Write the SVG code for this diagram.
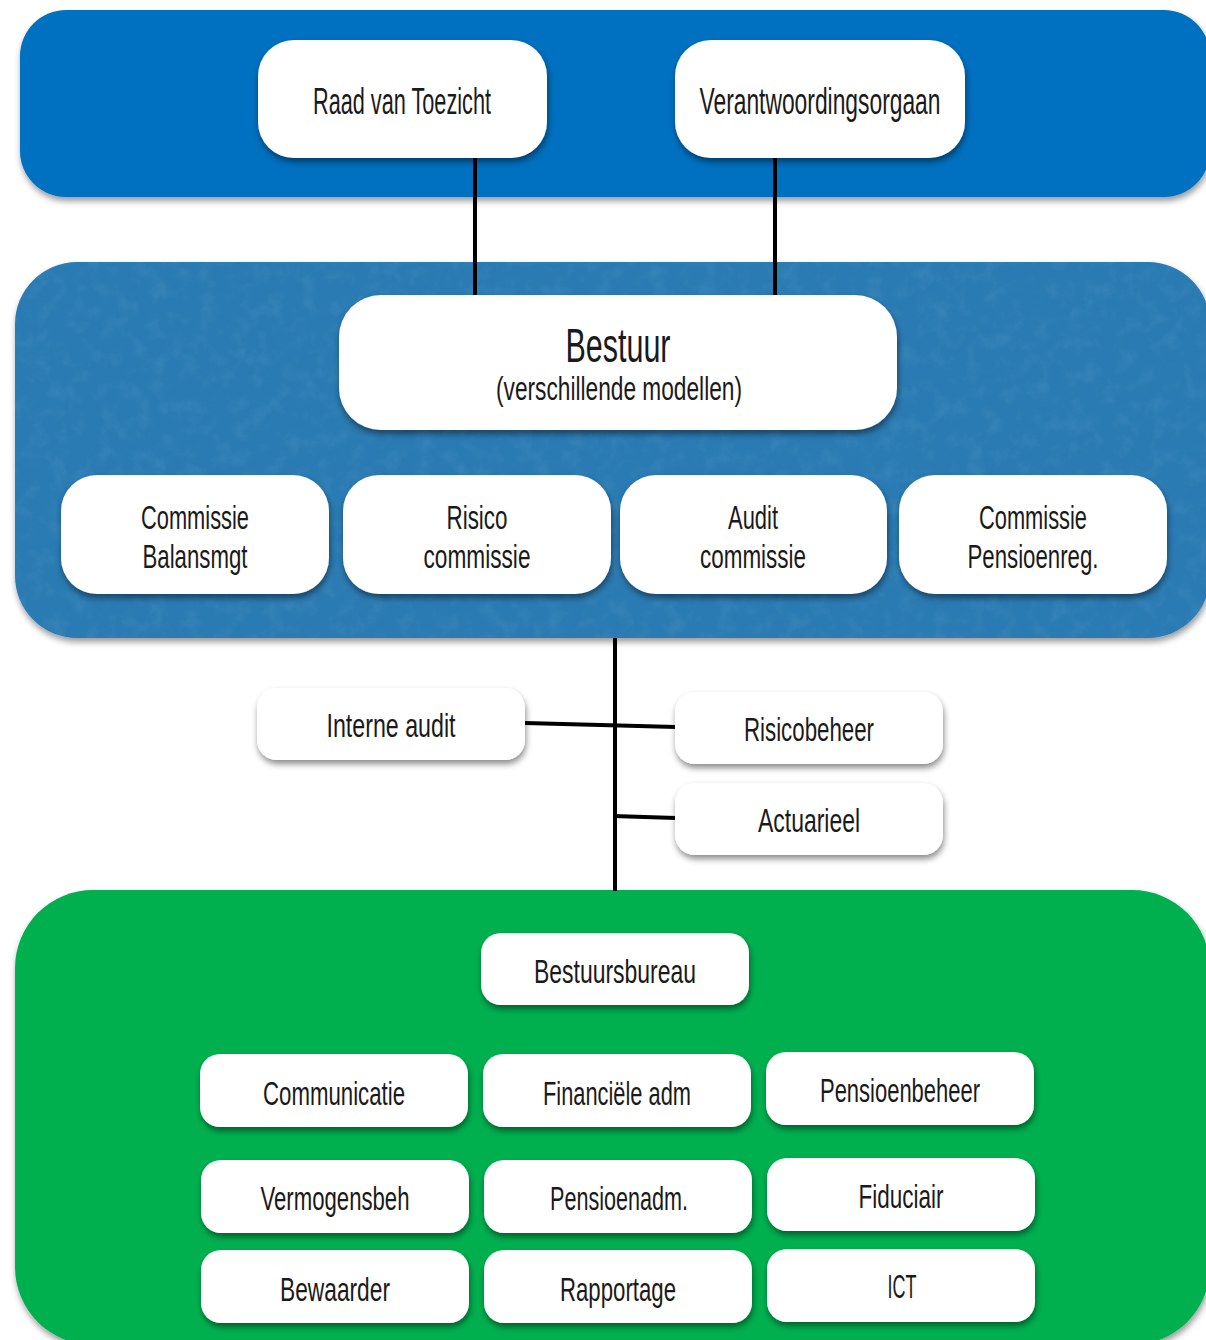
<svg xmlns="http://www.w3.org/2000/svg" width="1206" height="1340" viewBox="0 0 1206 1340">
  <defs>
    <filter id="shadow" x="-10%" y="-20%" width="120%" height="150%">
      <feDropShadow dx="1" dy="4" stdDeviation="3" flood-color="#000" flood-opacity="0.45"/>
    </filter>
    <filter id="bandShadow" x="-5%" y="-10%" width="110%" height="125%">
      <feDropShadow dx="1" dy="4" stdDeviation="3" flood-color="#000" flood-opacity="0.4"/>
    </filter>
    <filter id="grain" x="0" y="0" width="100%" height="100%">
      <feTurbulence type="fractalNoise" baseFrequency="0.06" numOctaves="4" seed="7" result="n"/>
      <feColorMatrix in="n" type="matrix" values="0 0 0 0 0.14  0 0 0 0 0.42  0 0 0 0 0.64  0 0 0 1.2 -0.5" result="tint"/>
      <feComposite in="tint" in2="SourceGraphic" operator="in"/>
    </filter>
    <style>
      .node { fill: #ffffff; filter: url(#shadow); }
      .lbl { font-family: "Liberation Sans", "DejaVu Sans", sans-serif; fill: #1a1a1a; text-anchor: middle; }
      .s33 { font-size: 36px; }
      .s31 { font-size: 34px; }
      .conn { stroke: #000; stroke-width: 4; fill: none; }
    </style>
  </defs>

  <!-- background bands -->
  <g id="bands">
    <rect x="20" y="10" width="1190" height="187" rx="46" fill="#0070C0" filter="url(#bandShadow)"/>
    <rect x="15" y="262" width="1195" height="376" rx="62" fill="#2C7AB3" filter="url(#bandShadow)"/>
    <rect x="15" y="262" width="1195" height="376" rx="62" fill="#2C7AB3" filter="url(#grain)" opacity="0.3"/>
    <rect x="15" y="890" width="1195" height="455" rx="78" fill="#00B050" filter="url(#bandShadow)"/>
  </g>

  <!-- connectors -->
  <g id="connectors">
    <line class="conn" x1="475" y1="156" x2="475" y2="296"/>
    <line class="conn" x1="775" y1="156" x2="775" y2="296"/>
    <line class="conn" x1="615" y1="638" x2="615" y2="891"/>
    <line class="conn" x1="525" y1="723" x2="676" y2="727"/>
    <line class="conn" x1="613" y1="816" x2="676" y2="818"/>
  </g>

  <!-- top level -->
  <g id="raad-van-toezicht">
    <rect class="node" x="258" y="40" width="289" height="118" rx="36"/>
    <text class="lbl s33" x="402" y="114" textLength="178" lengthAdjust="spacingAndGlyphs">Raad van Toezicht</text>
  </g>
  <g id="verantwoordingsorgaan">
    <rect class="node" x="675" y="40" width="290" height="118" rx="36"/>
    <text class="lbl s33" x="820" y="114" textLength="241" lengthAdjust="spacingAndGlyphs">Verantwoordingsorgaan</text>
  </g>

  <!-- board -->
  <g id="bestuur">
    <rect class="node" x="339" y="295" width="558" height="135" rx="42"/>
    <text class="lbl" x="618" y="362" font-size="49" textLength="105" lengthAdjust="spacingAndGlyphs">Bestuur</text>
    <text class="lbl" x="619" y="400" font-size="34" textLength="246" lengthAdjust="spacingAndGlyphs">(verschillende modellen)</text>
  </g>

  <g id="commissie-balansmgt">
    <rect class="node" x="61" y="475" width="268" height="119" rx="36"/>
    <text class="lbl s31" x="195" y="529" textLength="108" lengthAdjust="spacingAndGlyphs">Commissie</text>
    <text class="lbl s31" x="195" y="568" textLength="105" lengthAdjust="spacingAndGlyphs">Balansmgt</text>
  </g>
  <g id="risico-commissie">
    <rect class="node" x="343" y="475" width="268" height="119" rx="36"/>
    <text class="lbl s31" x="477" y="529" textLength="61" lengthAdjust="spacingAndGlyphs">Risico</text>
    <text class="lbl s31" x="477" y="568" textLength="107" lengthAdjust="spacingAndGlyphs">commissie</text>
  </g>
  <g id="audit-commissie">
    <rect class="node" x="620" y="475" width="267" height="119" rx="36"/>
    <text class="lbl s31" x="753" y="529" textLength="50" lengthAdjust="spacingAndGlyphs">Audit</text>
    <text class="lbl s31" x="753" y="568" textLength="106" lengthAdjust="spacingAndGlyphs">commissie</text>
  </g>
  <g id="commissie-pensioenreg">
    <rect class="node" x="899" y="475" width="268" height="119" rx="36"/>
    <text class="lbl s31" x="1033" y="529" textLength="108" lengthAdjust="spacingAndGlyphs">Commissie</text>
    <text class="lbl s31" x="1033" y="568" textLength="131" lengthAdjust="spacingAndGlyphs">Pensioenreg.</text>
  </g>

  <!-- key functions -->
  <g id="interne-audit">
    <rect class="node" x="257" y="688" width="268" height="72" rx="20"/>
    <text class="lbl s31" x="391" y="737" textLength="129" lengthAdjust="spacingAndGlyphs">Interne audit</text>
  </g>
  <g id="risicobeheer">
    <rect class="node" x="675" y="692" width="268" height="72" rx="20"/>
    <text class="lbl s31" x="809" y="741" textLength="130" lengthAdjust="spacingAndGlyphs">Risicobeheer</text>
  </g>
  <g id="actuarieel">
    <rect class="node" x="675" y="783" width="268" height="72" rx="20"/>
    <text class="lbl s31" x="809" y="832" textLength="102" lengthAdjust="spacingAndGlyphs">Actuarieel</text>
  </g>

  <!-- execution -->
  <g id="bestuursbureau">
    <rect class="node" x="481" y="933" width="268" height="72" rx="20"/>
    <text class="lbl s31" x="615" y="983" textLength="162" lengthAdjust="spacingAndGlyphs">Bestuursbureau</text>
  </g>

  <g id="communicatie">
    <rect class="node" x="200" y="1054" width="268" height="73" rx="20"/>
    <text class="lbl s31" x="334" y="1105" textLength="142" lengthAdjust="spacingAndGlyphs">Communicatie</text>
  </g>
  <g id="financiele-adm">
    <rect class="node" x="483" y="1054" width="268" height="73" rx="20"/>
    <text class="lbl s31" x="617" y="1105" textLength="148" lengthAdjust="spacingAndGlyphs">Financiële adm</text>
  </g>
  <g id="pensioenbeheer">
    <rect class="node" x="766" y="1052" width="268" height="73" rx="20"/>
    <text class="lbl s31" x="900" y="1102" textLength="160" lengthAdjust="spacingAndGlyphs">Pensioenbeheer</text>
  </g>

  <g id="vermogensbeh">
    <rect class="node" x="201" y="1160" width="268" height="73" rx="20"/>
    <text class="lbl s31" x="335" y="1210" textLength="149" lengthAdjust="spacingAndGlyphs">Vermogensbeh</text>
  </g>
  <g id="pensioenadm">
    <rect class="node" x="484" y="1160" width="268" height="73" rx="20"/>
    <text class="lbl s31" x="619" y="1210" textLength="138" lengthAdjust="spacingAndGlyphs">Pensioenadm.</text>
  </g>
  <g id="fiduciair">
    <rect class="node" x="767" y="1158" width="268" height="73" rx="20"/>
    <text class="lbl s31" x="901" y="1208" textLength="85" lengthAdjust="spacingAndGlyphs">Fiduciair</text>
  </g>

  <g id="bewaarder">
    <rect class="node" x="201" y="1250" width="268" height="73" rx="20"/>
    <text class="lbl s31" x="335" y="1301" textLength="110" lengthAdjust="spacingAndGlyphs">Bewaarder</text>
  </g>
  <g id="rapportage">
    <rect class="node" x="484" y="1250" width="268" height="73" rx="20"/>
    <text class="lbl s31" x="618" y="1301" textLength="116" lengthAdjust="spacingAndGlyphs">Rapportage</text>
  </g>
  <g id="ict">
    <rect class="node" x="767" y="1249" width="268" height="73" rx="20"/>
    <text class="lbl s31" x="902" y="1298" textLength="29" lengthAdjust="spacingAndGlyphs">ICT</text>
  </g>
</svg>
